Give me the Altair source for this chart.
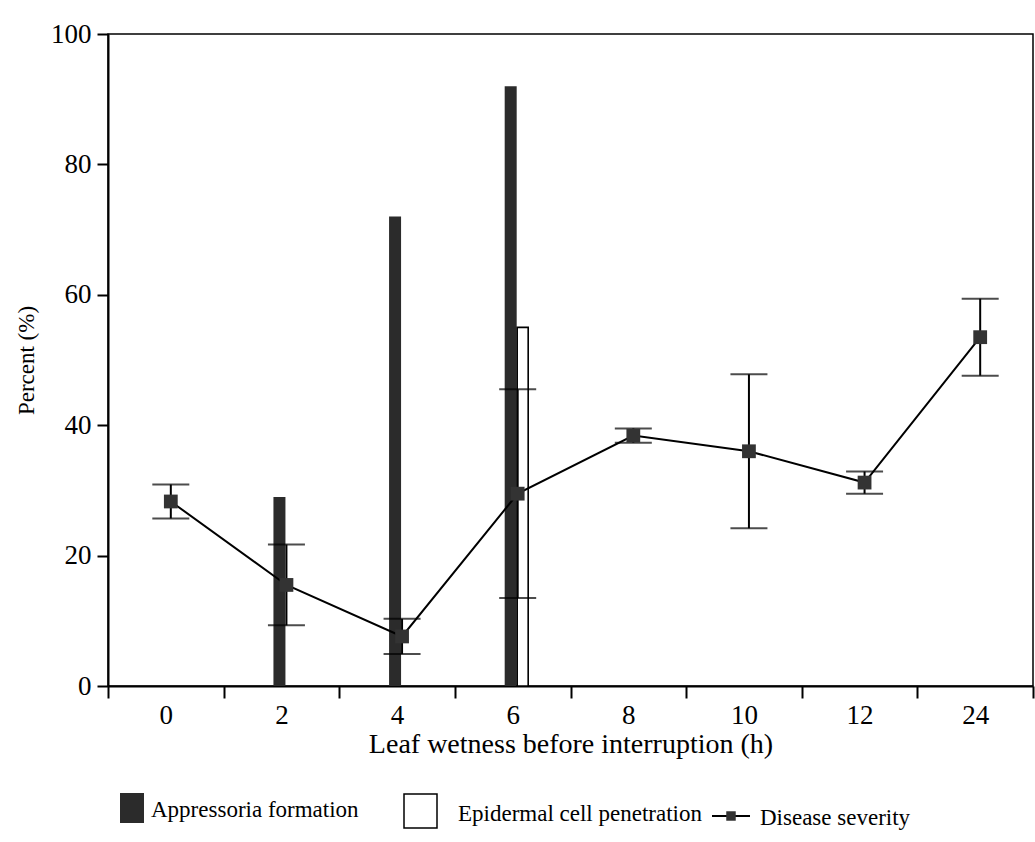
import altair as alt
import pandas as pd

# Hours of leaf wetness before the interruption (categorical axis)
hours = ["0", "2", "4", "6", "8", "10", "12", "24"]
# Percent of conidia forming appressoria / penetrating epidermal cells
appressoria = [None, 29, 72, 92, None, None, None, None]
penetration = [None, None, None, 55, None, None, None, None]
# Disease severity (%) with error-bar half widths
severity = [28.3, 15.5, 7.6, 29.5, 38.4, 36.0, 31.2, 53.5]
severity_err = [2.6, 6.2, 2.7, 16.0, 1.1, 11.8, 1.7, 5.9]

legend_labels = ["Appressoria formation", "Epidermal cell penetration", "Disease severity"]

FONT = "Liberation Serif"
W, H = 925, 652

df = pd.DataFrame({
    "hour": hours,
    "app": appressoria,
    "pen": penetration,
    "sev": severity,
    "err": severity_err,
})
df["lo"] = df["sev"] - df["err"]
df["hi"] = df["sev"] + df["err"]

x_enc = alt.X(
    "hour:N",
    sort=hours,
    scale=alt.Scale(type="band", domain=hours, paddingInner=0, paddingOuter=0),
    axis=alt.Axis(
        title="Leaf wetness before interruption (h)",
        labelAngle=0,
        tickBand="extent",
        tickSize=12,
        tickWidth=2,
        domainWidth=2,
        domainColor="black",
        tickColor="black",
        labelFont=FONT,
        labelFontSize=27,
        labelColor="black",
        labelPadding=4,
        titleFont=FONT,
        titleFontSize=28,
        titleFontWeight="normal",
        titleColor="black",
        titlePadding=2,
        grid=False,
    ),
)
y_scale = alt.Scale(domain=[0, 100], nice=False)
y_axis = alt.Axis(
    title="Percent (%)",
    values=[0, 20, 40, 60, 80, 100],
    tickSize=11,
    tickWidth=2,
    domainWidth=2,
    domainColor="black",
    tickColor="black",
    labelFont=FONT,
    labelFontSize=27,
    labelColor="black",
    labelPadding=6,
    titleFont=FONT,
    titleFontSize=23,
    titleFontWeight="normal",
    titleColor="black",
    titlePadding=12,
    grid=False,
)

base = alt.Chart(df)

app_bars = base.transform_filter("isValid(datum.app)").mark_bar(
    width=12, xOffset=-2, color="#2b2b2b"
).encode(x=x_enc, y=alt.Y("app:Q", scale=y_scale, axis=y_axis))

pen_bars = base.transform_filter("isValid(datum.pen)").mark_bar(
    width=11, xOffset=10, fill="white", stroke="black", strokeWidth=1.6
).encode(x=alt.X("hour:N", sort=hours), y=alt.Y("pen:Q"))

sev_line = base.mark_line(color="black", strokeWidth=2, xOffset=5).encode(
    x=alt.X("hour:N", sort=hours), y=alt.Y("sev:Q")
)

sev_rule = base.mark_rule(color="black", strokeWidth=2, xOffset=5).encode(
    x=alt.X("hour:N", sort=hours), y=alt.Y("lo:Q"), y2="hi:Q"
)

cap_lo = base.mark_tick(color="black", size=37, thickness=2, xOffset=5).encode(
    x=alt.X("hour:N", sort=hours), y=alt.Y("lo:Q")
)
cap_hi = base.mark_tick(color="black", size=37, thickness=2, xOffset=5).encode(
    x=alt.X("hour:N", sort=hours), y=alt.Y("hi:Q")
)

sev_pts = base.mark_point(
    shape="square", filled=True, size=190, color="#333333", opacity=1, xOffset=5
).encode(x=alt.X("hour:N", sort=hours), y=alt.Y("sev:Q"))

# Hand-placed legend below the plot
one = pd.DataFrame({"k": [0]})
leg = alt.Chart(one)
leg_app_box = leg.mark_rect(color="#2b2b2b").encode(
    x=alt.value(12), x2=alt.value(36), y=alt.value(759), y2=alt.value(789)
)
leg_app_txt = leg.mark_text(
    align="left", baseline="middle", font=FONT, fontSize=23, color="black"
).encode(x=alt.value(43), y=alt.value(776), text=alt.value(legend_labels[0]))
leg_pen_box = leg.mark_rect(fill="white", stroke="black", strokeWidth=1.5).encode(
    x=alt.value(296), x2=alt.value(329), y=alt.value(760), y2=alt.value(794)
)
leg_pen_txt = leg.mark_text(
    align="left", baseline="middle", font=FONT, fontSize=23, color="black"
).encode(x=alt.value(350), y=alt.value(780), text=alt.value(legend_labels[1]))
leg_sev_line = leg.mark_rule(color="black", strokeWidth=2).encode(
    x=alt.value(604), x2=alt.value(642), y=alt.value(782)
)
leg_sev_pt = leg.mark_point(
    shape="square", filled=True, size=90, color="#333333", opacity=1
).encode(x=alt.value(623), y=alt.value(782))
leg_sev_txt = leg.mark_text(
    align="left", baseline="middle", font=FONT, fontSize=23, color="black"
).encode(x=alt.value(652), y=alt.value(784), text=alt.value(legend_labels[2]))

chart = alt.layer(
    app_bars, pen_bars, sev_line, sev_rule, cap_lo, cap_hi, sev_pts,
    leg_app_box, leg_app_txt, leg_pen_box, leg_pen_txt,
    leg_sev_line, leg_sev_pt, leg_sev_txt,
).properties(
    width=W,
    height=H,
    autosize=alt.AutoSizeParams(type="none"),
    padding={"left": 108, "top": 34, "right": 2, "bottom": 156},
    background="white",
).configure_view(
    stroke="black", strokeWidth=1.5
)

chart.save("out.html", embed_options={"renderer": "svg", "actions": False})
